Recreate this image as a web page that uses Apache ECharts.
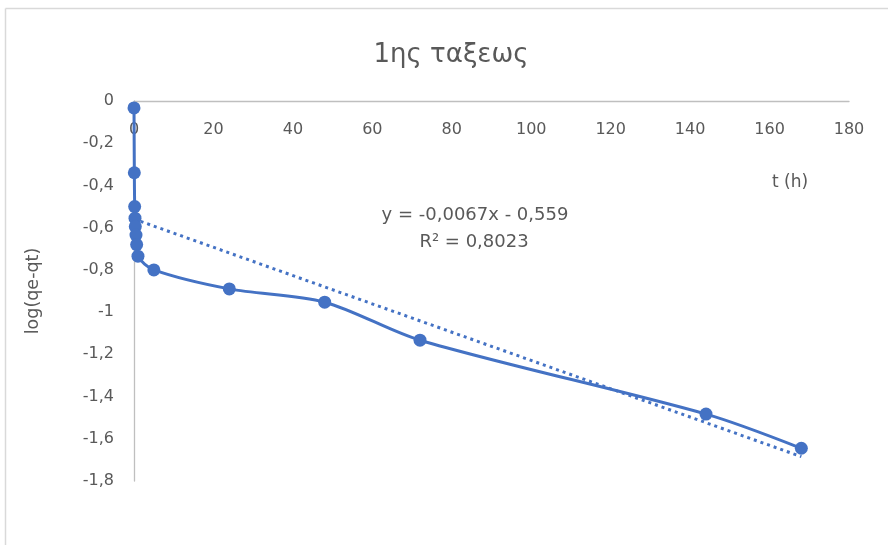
<!DOCTYPE html>
<html>
<head>
<meta charset="utf-8">
<script src="https://cdn.jsdelivr.net/npm/echarts@6/dist/echarts.min.js"></script>
<style>
  html, body { margin: 0; padding: 0; background: #ffffff; overflow: hidden; }
  #chart { width: 888px; height: 545px; }
</style>
</head>
<body>
<div id="chart"></div>
<script>
// Time in hours
const times = [0, 0.083, 0.167, 0.25, 0.33, 0.5, 0.67, 1, 5, 24, 48, 72, 144, 168];
// log(qe - qt)
const logValues = [-0.033, -0.34, -0.50, -0.555, -0.595, -0.635, -0.68, -0.735, -0.80, -0.89, -0.953, -1.133, -1.483, -1.645];
// Linear fit shown on the chart
const slope = -0.0067;
const intercept = -0.559;
const rSquared = '0,8023';
const xTicks = { min: 0, max: 180, step: 20 };
const yTicks = { min: -1.8, max: 0, step: 0.2 };

const FONT = 'DejaVu Sans';
const TEXT = '#595959';
const BLUE = '#4472C4';

const points = times.map((t, i) => [t, logValues[i]]);
const fitEnd = times[times.length - 1];
const fitLine = [[0, intercept], [fitEnd, slope * fitEnd + intercept]];
const fmtComma = v => String(Math.round(v * 10) / 10).replace('.', ',');

const chart = echarts.init(document.getElementById('chart'), null, { renderer: 'canvas' });
chart.setOption({
  backgroundColor: '#ffffff',
  animation: false,
  grid: { left: 134, top: 101, right: 39, bottom: 64 },
  xAxis: {
    type: 'value',
    position: 'top',
    min: xTicks.min, max: xTicks.max, interval: xTicks.step,
    axisLine: { onZero: false, lineStyle: { color: '#bfbfbf', width: 1.3 } },
    axisTick: { show: false },
    splitLine: { show: false },
    axisLabel: { inside: true, margin: 21, color: TEXT, fontFamily: FONT, fontSize: 16 }
  },
  yAxis: {
    type: 'value',
    min: yTicks.min, max: yTicks.max, interval: yTicks.step,
    name: 'log(qe-qt)',
    nameLocation: 'middle',
    nameRotate: 90,
    nameGap: 92,
    nameTextStyle: { fontFamily: FONT, fontSize: 17.5, color: TEXT },
    axisLine: { show: true, onZero: false, lineStyle: { color: '#bfbfbf', width: 1.3 } },
    axisTick: { show: false },
    splitLine: { show: false },
    axisLabel: { margin: 20, color: TEXT, fontFamily: FONT, fontSize: 16, formatter: fmtComma }
  },
  graphic: [
    // chart-area frame: left and top edges
    { type: 'line', shape: { x1: 5.5, y1: 8.5, x2: 5.5, y2: 545 },
      style: { stroke: '#d9d9d9', lineWidth: 1.5 }, silent: true, z: -10 },
    { type: 'line', shape: { x1: 5.5, y1: 8.5, x2: 888, y2: 8.5 },
      style: { stroke: '#d9d9d9', lineWidth: 1.5 }, silent: true, z: -10 },
    { type: 'text', x: 451, y: 55,
      style: { text: '1ης ταξεως', fontFamily: FONT, fontSize: 26, fill: TEXT, align: 'center', verticalAlign: 'middle' } },
    { type: 'text', x: 790, y: 183,
      style: { text: 't (h)', fontFamily: FONT, fontSize: 17, fill: TEXT, align: 'center', verticalAlign: 'middle' } },
    { type: 'text', x: 475, y: 215,
      style: { text: 'y = -0,0067x - 0,559', fontFamily: FONT, fontSize: 18, fill: TEXT, align: 'center', verticalAlign: 'middle' } },
    { type: 'text', x: 474, y: 242,
      style: { text: 'R² = ' + rSquared, fontFamily: FONT, fontSize: 18, fill: TEXT, align: 'center', verticalAlign: 'middle' } }
  ],
  series: [
    {
      type: 'line',
      data: fitLine,
      symbol: 'none',
      lineStyle: { color: BLUE, width: 3, type: [3, 4] },
      z: 2
    },
    {
      type: 'line',
      data: points,
      smooth: 0.3,
      symbol: 'circle',
      symbolSize: 13,
      itemStyle: { color: BLUE },
      lineStyle: { color: BLUE, width: 3 },
      z: 3
    }
  ]
});
</script>
</body>
</html>
